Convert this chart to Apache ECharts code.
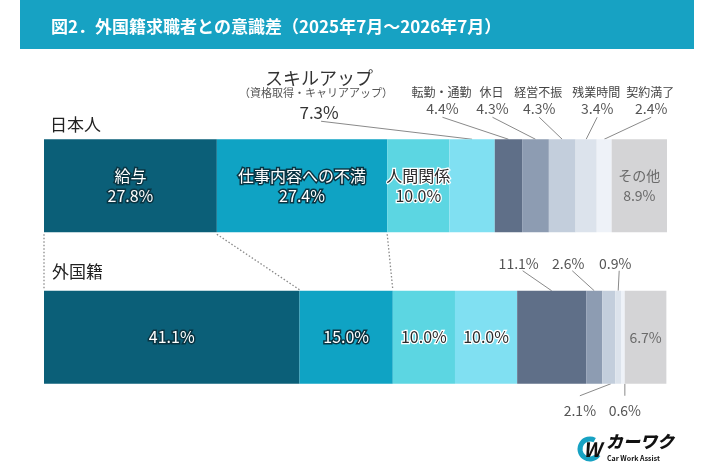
<!DOCTYPE html>
<html>
<head>
<meta charset="utf-8">
<title>外国籍求職者との意識差</title>
<script src="https://cdn.jsdelivr.net/npm/echarts@6/dist/echarts.min.js"></script>
<style>
html,body{margin:0;padding:0;background:#fff;}
#main{width:710px;height:474px;}
</style>
</head>
<body>
<div id="main"></div>
<script>
// data
var categories = ['日本人', '外国籍'];
var reasons = ['給与', '仕事内容への不満', '人間関係', 'スキルアップ', '転勤・通勤', '休日', '経営不振', '残業時間', '契約満了', 'その他'];
var japanese = [27.8, 27.4, 10.0, 7.3, 4.4, 4.3, 4.3, 3.4, 2.4, 8.9];
var foreign = [41.1, 15.0, 10.0, 10.0, 11.1, 2.6, 2.1, 0.9, 0.6, 6.7];

// where each label goes: in = inside bar, up = above with leader, down = below with leader
var jpPlace = ['in', 'in', 'in', 'up', 'up', 'up', 'up', 'up', 'up', 'in'];
var fgPlace = ['in', 'in', 'in', 'in', 'up', 'up', 'down', 'up', 'down', 'in'];
// horizontal shift of outside labels from the segment centre (px)
var jpShift = [0, 0, 0, -153, -67, -44, -24, 10, 46, 0];
var fgShift = [0, 0, 0, 0, -33, -26, -29, -3, 2, 0];

var colors = ['#0b5f78', '#0fa3c4', '#5cd6e2', '#80e0f2', '#5f6f88', '#8d9cb2', '#c3cedc', '#dce3ec', '#eef2f8', '#d4d4d6'];
var FONT = '"Noto Sans CJK JP", "Noto Sans", sans-serif';
var BAR_W = 93;

var chart = echarts.init(document.getElementById('main'));

function insideStyle(i) {
  if (i <= 1) return {color: '#fff', textBorderColor: '#0a3442', textBorderWidth: 3, fontSize: 16};
  if (i <= 3) return {color: '#2b2b2b', textBorderColor: '#fff', textBorderWidth: 2.5, fontSize: 16};
  return {color: '#6a6a6a', fontSize: 14};
}

var series = reasons.map(function (name, i) {
  var items = [japanese[i], foreign[i]].map(function (v, c) {
    var place = c === 0 ? jpPlace[i] : fgPlace[i];
    var st = insideStyle(i);
    return {
      value: v,
      label: {
        show: place === 'in',
        position: 'inside',
        formatter: c === 0 ? name + '\n' + v.toFixed(1) + '%' : v.toFixed(1) + '%',
        color: st.color,
        textBorderColor: st.textBorderColor || 'transparent',
        textBorderWidth: st.textBorderWidth || 0,
        fontSize: st.fontSize,
        lineHeight: 20,
        fontFamily: FONT
      }
    };
  });
  return {
    name: name,
    type: 'bar',
    stack: 'total',
    barWidth: BAR_W,
    silent: true,
    itemStyle: {color: colors[i]},
    data: items
  };
});

chart.setOption({
  animation: false,
  backgroundColor: '#fff',
  title: {
    text: '図2．外国籍求職者との意識差（2025年7月～2026年7月）',
    left: 46, top: 13,
    textStyle: {color: '#fff', fontSize: 17, fontWeight: 'bold', fontFamily: FONT}
  },
  grid: {left: 44, right: 43, top: 110, bottom: 61},
  xAxis: {type: 'value', min: 0, max: 100.2, show: false},
  yAxis: {type: 'category', data: categories, inverse: true, show: false},
  series: series
});

// annotations placed from the data through the chart scale
function px(v, c) { return chart.convertToPixel({gridIndex: 0}, [v, c]); }

var g = [];
g.push({type: 'rect', z: -1, shape: {x: 20, y: 0, width: 674, height: 49}, style: {fill: '#17a2c3'}});

var jpCum = [0], fgCum = [0];
japanese.forEach(function (v, i) { jpCum.push(jpCum[i] + v); });
foreign.forEach(function (v, i) { fgCum.push(fgCum[i] + v); });

var topC = px(0, 0)[1], botC = px(0, 1)[1];
var jpTop = topC - BAR_W / 2, jpBot = topC + BAR_W / 2;
var fgTop = botC - BAR_W / 2, fgBot = botC + BAR_W / 2;

// category titles
g.push({type: 'text', style: {text: categories[0], x: 50, y: jpTop - 15, fill: '#222', font: '17px ' + FONT, textVerticalAlign: 'middle'}});
g.push({type: 'text', style: {text: categories[1], x: 52, y: fgTop - 19, fill: '#222', font: '17px ' + FONT, textVerticalAlign: 'middle'}});

// dotted connectors between the two bars
[0, 1, 2].forEach(function (k) {
  var a = px(jpCum[k], 0), b = px(fgCum[k], 1);
  g.push({type: 'line', shape: {x1: a[0], y1: jpBot + 2, x2: b[0], y2: fgTop - 1},
    style: {stroke: '#8a8a8a', lineWidth: 1.3, lineDash: [1.5, 2]}});
});

function lbl(text, x, y, size, color) {
  g.push({type: 'text', style: {text: text, x: x, y: y, fill: color, font: size + 'px ' + FONT, textAlign: 'center', textVerticalAlign: 'middle'}});
}
function lead(x1, y1, x2, y2) {
  g.push({type: 'line', shape: {x1: x1, y1: y1, x2: x2, y2: y2}, style: {stroke: '#8a8a8a', lineWidth: 1}});
}

// Japanese outside labels
reasons.forEach(function (name, i) {
  if (jpPlace[i] !== 'up') return;
  var cx = px((jpCum[i] + jpCum[i + 1]) / 2, 0)[0];
  var lx = cx + jpShift[i];
  var val = japanese[i].toFixed(1) + '%';
  if (name === 'スキルアップ') {
    lbl(name, lx, jpTop - 61, 18, '#333');
    lbl('（資格取得・キャリアアップ）', lx - 3, jpTop - 46, 11, '#555');
    lbl(val, lx, jpTop - 27, 17, '#333');
    lead(lx + 2, jpTop - 18, cx, jpTop);
  } else {
    lbl(name, lx, jpTop - 47, 12, '#444');
    lbl(val, lx + 1, jpTop - 31, 14, '#555');
    lead(lx + 1, jpTop - 22, cx, jpTop);
  }
});

// foreign outside labels
reasons.forEach(function (name, i) {
  var p = fgPlace[i];
  if (p !== 'up' && p !== 'down') return;
  var cx = px((fgCum[i] + fgCum[i + 1]) / 2, 1)[0];
  var lx = cx + fgShift[i];
  var val = foreign[i].toFixed(1) + '%';
  if (p === 'up') {
    lbl(val, lx, fgTop - 27, 14, '#555');
    lead(lx + 4, fgTop - 20, cx, fgTop);
  } else {
    lbl(val, lx, fgBot + 27, 14, '#555');
    lead(lx, fgBot + 12, cx + 2, fgBot);
  }
});

// logo
g.push({type: 'arc', shape: {cx: 590, cy: 449, r: 10, startAngle: 0.6, endAngle: 5.2},
  style: {stroke: '#17a2c3', lineWidth: 5, fill: 'none'}});
g.push({type: 'text', style: {text: 'W', x: 583, y: 449, fill: '#111', font: 'italic bold 20px ' + FONT, textVerticalAlign: 'middle'}});
g.push({type: 'text', style: {text: 'カーワク', x: 606, y: 442, fill: '#111', font: 'italic 900 17px ' + FONT, textVerticalAlign: 'middle'}});
g.push({type: 'text', style: {text: 'Car Work Assist', x: 607, y: 458, fill: '#111', font: 'bold 7px ' + FONT, textVerticalAlign: 'middle'}});

chart.setOption({graphic: g});
</script>
</body>
</html>
